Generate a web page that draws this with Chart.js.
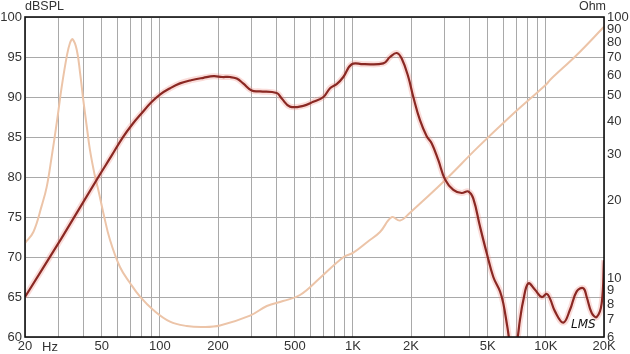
<!DOCTYPE html>
<html>
<head>
<meta charset="utf-8">
<script src="https://cdn.jsdelivr.net/npm/chart.js@4"></script>
<style>
html, body { margin: 0; padding: 0; background: #fff; }
</style>
</head>
<body>
<canvas id="fr" width="630" height="354"></canvas>
<script>
// ---- data -------------------------------------------------------------------

var splFreq = [20, 31, 48, 56, 64, 72, 80, 90, 100, 113, 127, 145, 168, 190, 210, 231, 250, 270, 299, 330,
    403, 428, 472, 553, 623, 703, 761, 824, 892, 986, 1132, 1437, 1557, 1687, 1790,
    1937, 2056, 2226, 2412, 2562, 2771, 3002, 3314, 3662, 3963, 4206, 4556, 4934,
    5340, 5784, 6016, 6310, 6550, 6760, 7000, 7344, 7638, 8108, 8782, 9512, 10094,
    10502, 11146, 12308, 13328, 14444, 15620, 16270, 17270, 18340, 19456, 20000];
var splDb = [65.0, 72.4, 80.0, 82.6, 84.9, 86.6, 87.9, 89.3, 90.3, 91.1, 91.7, 92.1, 92.4, 92.6, 92.5, 92.5, 92.3, 91.7, 90.8, 90.7,
    90.5, 89.8, 88.8, 88.9, 89.4, 90.0, 91.1, 91.6, 92.5, 94.1, 94.1, 94.2, 95.0, 95.5, 94.8,
    92.5, 90.0, 87.1, 85.1, 84.2, 82.1, 79.7, 78.4, 78.0, 78.2, 77.3, 73.8, 70.5,
    67.5, 65.7, 64.2, 61.3, 59.0, 58.5, 58.8, 62.2, 64.6, 66.7, 65.9, 65.0, 65.4,
    64.8, 63.2, 61.8, 63.4, 65.7, 66.1, 65.0, 63.0, 62.5, 64.2, 69.6];

var impFreq = [20, 22.1, 24.4, 25.9, 27.5, 29.2, 31.0, 32.9, 34.2, 35.3, 37.1, 38.6, 40.1,
    41.8, 43.4, 46.1, 48.0, 50.9, 55.1, 62.1, 70, 78.9, 92.4, 112.8, 137.7, 167.8, 204.8,
    293, 358, 434, 532, 675, 892, 1005, 1197, 1382, 1589, 1754, 1976, 3002, 4380, 6516,
    10094, 10502, 14444, 20000];
var impOhm = [13.7, 15.1, 19.0, 22.4, 29.3, 39.4, 54.2, 70.6, 79.6, 82.2, 74.8, 61.1, 48.2,
    38.1, 31.1, 24.6, 21.8, 17.9, 14.1, 11.1, 9.65, 8.55, 7.61, 6.87, 6.61, 6.55, 6.64,
    7.24, 7.88, 8.23, 8.68, 10.08, 12.1, 12.6, 13.9, 15.1, 17.2, 16.7, 17.9, 23.8, 31.5, 41.6,
    55.5, 57.5, 71.6, 91.8];

var freqGrid = [20, 30, 40, 50, 60, 70, 80, 90, 100, 200, 300, 400, 500, 600, 700, 800, 900,
    1000, 2000, 3000, 4000, 5000, 6000, 7000, 8000, 9000, 10000, 20000];
var freqLabels = { 20: '20', 50: '50', 100: '100', 200: '200', 500: '500',
    1000: '1K', 2000: '2K', 5000: '5K', 10000: '10K', 20000: '20K' };
var ohmTicks = [6, 7, 8, 9, 10, 20, 30, 40, 50, 60, 70, 80, 90, 100];

// -------------------------------------------------------------------------------

function pairs(xs, ys) {
    return xs.map(function (f, i) { return { x: f, y: ys[i] }; });
}

function fixedTicks(list) {
    return function (scale) {
        scale.ticks = list.map(function (v) { return { value: v }; });
    };
}

var TICK_FONT = { family: '"Liberation Sans", Arial, sans-serif', size: 13 };
var GRID = '#a9a9a9';

var extras = {
    id: 'extras',
    afterDraw: function (chart) {
        var ctx = chart.ctx, a = chart.chartArea;
        ctx.save();
        // frame
        ctx.strokeStyle = '#111';
        ctx.lineWidth = 1.6;
        ctx.strokeRect(a.left, a.top, a.right - a.left, a.bottom - a.top);

        ctx.fillStyle = '#333';
        ctx.font = '12.5px "Liberation Sans", Arial, sans-serif';
        ctx.textBaseline = 'middle';
        ctx.textAlign = 'left';
        ctx.fillText('dBSPL', a.left, 7);
        ctx.textAlign = 'right';
        ctx.fillText('Ohm', a.right + 2, 7);

        ctx.font = '13px "Liberation Sans", Arial, sans-serif';
        ctx.textAlign = 'left';
        ctx.fillText('Hz', 42, a.bottom + 10);

        ctx.fillStyle = '#111';
        ctx.font = 'italic 12px "DejaVu Sans", sans-serif';
        ctx.fillText('LMS', 571, 325);
        ctx.restore();
    }
};

new Chart(document.getElementById('fr').getContext('2d'), {
    type: 'line',
    data: {
        datasets: [{
            label: 'SPL',
            data: pairs(splFreq, splDb),
            yAxisID: 'y',
            borderColor: '#8a2823',
            borderWidth: 2.2,
            order: 0
        }, {
            label: 'SPL glow',
            data: pairs(splFreq, splDb),
            yAxisID: 'y',
            borderColor: 'rgba(238,140,128,0.3)',
            borderWidth: 6,
            order: 1
        }, {
            label: 'Impedance',
            data: pairs(impFreq, impOhm),
            yAxisID: 'y2',
            borderColor: '#ecc4a8',
            borderWidth: 2,
            order: 2
        }]
    },
    options: {
        responsive: false,
        devicePixelRatio: 1,
        animation: false,
        layout: { padding: { top: 17, left: 0, right: 0, bottom: 0 } },
        elements: {
            point: { radius: 0 },
            line: { tension: 0.4, fill: false }
        },
        datasets: { line: { clip: 0 } },
        plugins: { legend: { display: false }, tooltip: { enabled: false } },
        scales: {
            x: {
                type: 'logarithmic',
                min: 20,
                max: 20000,
                afterBuildTicks: fixedTicks(freqGrid),
                afterFit: function (s) { s.height = 17; },
                grid: { color: GRID, lineWidth: 1, drawTicks: false },
                border: { display: false },
                ticks: {
                    autoSkip: false,
                    maxRotation: 0,
                    padding: 2,
                    color: '#333',
                    font: TICK_FONT,
                    callback: function (v) { return freqLabels[v] || ''; }
                }
            },
            y: {
                type: 'linear',
                position: 'left',
                min: 60,
                max: 100,
                afterFit: function (s) { s.width = 25; },
                grid: { color: GRID, lineWidth: 1, drawTicks: false },
                border: { display: false },
                ticks: { stepSize: 5, padding: 3, color: '#333', font: TICK_FONT }
            },
            y2: {
                type: 'logarithmic',
                position: 'right',
                min: 6,
                max: 100,
                afterBuildTicks: fixedTicks(ohmTicks),
                afterFit: function (s) { s.width = 26; },
                grid: { display: false, drawTicks: false },
                border: { display: false },
                ticks: {
                    autoSkip: false,
                    padding: 3,
                    color: '#333',
                    font: TICK_FONT,
                    callback: function (v) { return String(v); }
                }
            }
        }
    },
    plugins: [extras]
});
</script>
</body>
</html>
